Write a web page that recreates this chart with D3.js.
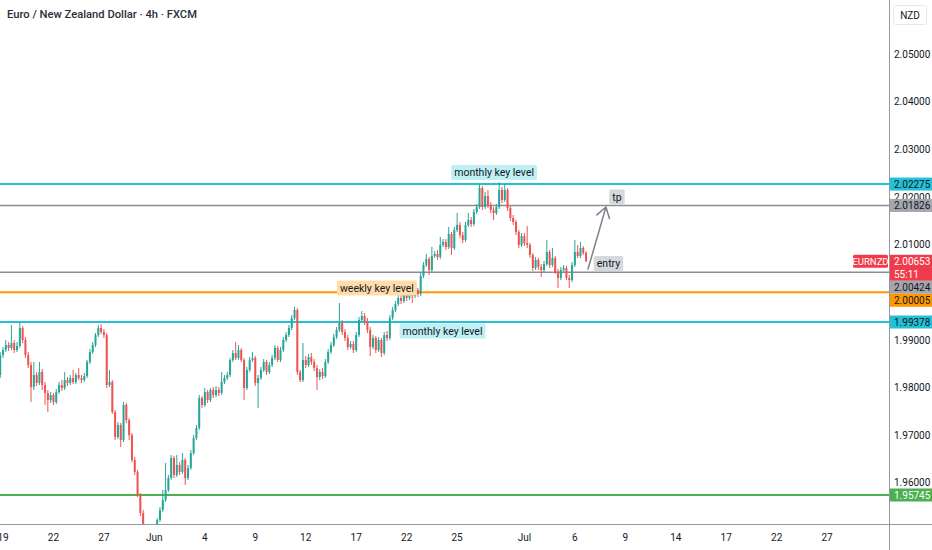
<!DOCTYPE html>
<html>
<head>
<meta charset="utf-8">
<script src="https://cdn.jsdelivr.net/npm/d3@7"></script>
<style>
  html, body { margin: 0; padding: 0; background: #fff; }
  svg { display: block; font-family: Roboto, "DejaVu Sans", sans-serif; }
</style>
</head>
<body>
<div id="chart"></div>
<script>
const width = 932, height = 550;
const plotW = 889, plotH = 524;

// 4h candles, EURNZD (open of each bar = previous close)
const firstOpen = 1.98265;
const closes = [
  1.98685,1.98790,1.98895,1.98832,1.98937,1.98790,1.98874,1.99252,1.99000,1.98685,
  1.98475,1.98013,1.98265,1.98097,1.98328,1.98055,1.97887,1.97740,1.97845,1.97698,
  1.97908,1.98055,1.97992,1.98160,1.98097,1.98202,1.98118,1.98265,1.98202,1.98160,
  1.98244,1.98538,1.98748,1.98895,1.99105,1.99252,1.99168,1.99105,1.98055,1.98118,
  1.97488,1.96963,1.97215,1.96900,1.97635,1.97320,1.97005,1.96480,1.96228,1.95745,
  1.95367,1.94905,1.94842,1.94968,1.94800,1.94905,1.95220,1.95430,1.95640,1.95850,
  1.96102,1.96522,1.96165,1.96375,1.96228,1.96480,1.96102,1.96312,1.96627,1.96942,
  1.97152,1.97782,1.97635,1.97908,1.97740,1.97950,1.97845,1.97950,1.97887,1.98118,
  1.98202,1.98265,1.98580,1.98727,1.98622,1.98790,1.98580,1.97992,1.98370,1.98580,
  1.98622,1.98097,1.98202,1.98370,1.98538,1.98328,1.98475,1.98622,1.98832,1.98580,
  1.98790,1.99000,1.99105,1.99252,1.99462,1.99630,1.98328,1.98160,1.98580,1.98475,
  1.98643,1.98538,1.98412,1.98223,1.98328,1.98244,1.98538,1.98748,1.98895,1.99063,
  1.99210,1.99357,1.99168,1.99042,1.98853,1.98916,1.98790,1.99105,1.99420,1.99504,
  1.99378,1.99210,1.98853,1.99042,1.98790,1.99000,1.98727,1.99105,1.99042,1.99462,
  1.99630,1.99756,1.99882,1.99819,1.99945,1.99882,2.00050,1.99924,2.00050,1.99966,
  2.00344,2.00575,2.00701,2.00470,2.00764,2.00806,2.00743,2.00995,2.01058,2.00953,
  2.01226,2.00932,2.01310,2.01415,2.01205,2.01100,2.01415,2.01520,2.01436,2.01688,
  2.01793,2.02192,2.01793,2.02024,2.01835,2.01730,2.01667,2.01793,2.02150,2.01940,
  2.02150,2.01772,2.01562,2.01478,2.01268,2.00995,2.01184,2.01037,2.00995,2.00785,
  2.00512,2.00680,2.00533,2.00470,2.00596,2.00848,2.00575,2.00722,2.00428,2.00302,
  2.00470,2.00512,2.00302,2.00260,2.00575,2.00848,2.00764,2.00932,2.00827,2.00653
];
const highs = [
  1.98748,1.98853,1.99000,1.98958,1.99315,1.99000,1.98958,1.99378,1.99294,1.99063,
  1.98748,1.98538,1.98538,1.98328,1.98538,1.98391,1.98118,1.97950,1.97908,1.97887,
  1.97971,1.98118,1.98160,1.98328,1.98223,1.98265,1.98370,1.98307,1.98412,1.98265,
  1.98307,1.98580,1.98811,1.98958,1.99147,1.99315,1.99336,1.99231,1.99147,1.98370,
  1.98160,1.97530,1.97278,1.97257,1.97698,1.97677,1.97362,1.97047,1.96543,1.96270,
  1.95787,1.95430,1.95115,1.95031,1.95010,1.95073,1.95262,1.95493,1.95850,1.96417,
  1.96165,1.96585,1.96564,1.96585,1.96438,1.96627,1.96522,1.96375,1.96690,1.97005,
  1.97215,1.97845,1.97824,1.97992,1.97950,1.97992,1.98013,1.98034,1.98013,1.98328,
  1.98265,1.98328,1.98622,1.98790,1.98958,1.98895,1.98832,1.98622,1.98433,1.98643,
  1.98748,1.98664,1.98265,1.98433,1.98601,1.98580,1.98538,1.98685,1.98895,1.98874,
  1.98853,1.99063,1.99168,1.99315,1.99525,1.99693,1.99672,1.98370,1.98937,1.98664,
  1.98706,1.98727,1.98601,1.98475,1.98391,1.98412,1.98601,1.98811,1.98958,1.99126,
  1.99273,1.99777,1.99420,1.99231,1.99105,1.98979,1.98979,1.99168,1.99483,1.99609,
  1.99567,1.99462,1.99273,1.99105,1.99084,1.99063,1.99042,1.99168,1.99189,1.99525,
  1.99693,1.99819,1.99945,1.99945,2.00008,2.00029,2.00113,2.00092,2.00113,2.00092,
  2.00407,2.00638,2.00806,2.00743,2.00953,2.00869,2.00890,2.01163,2.01121,2.01121,
  2.01373,2.01268,2.01373,2.01667,2.01478,2.01268,2.01478,2.01667,2.01583,2.01751,
  2.01856,2.02276,2.02234,2.02108,2.02150,2.01898,2.01793,2.01856,2.02318,2.02213,
  2.02276,2.02192,2.01814,2.01625,2.01520,2.01310,2.01247,2.01247,2.01394,2.01037,
  2.00827,2.00743,2.00722,2.00596,2.00659,2.01100,2.00890,2.00932,2.00764,2.00491,
  2.00533,2.00575,2.00554,2.00365,2.00638,2.01100,2.00995,2.01058,2.00974,2.00869
];
const lows = [
  1.98202,1.98622,1.98748,1.98769,1.98790,1.98727,1.98748,1.98832,1.98937,1.98622,
  1.98412,1.97698,1.97950,1.98034,1.98055,1.97950,1.97635,1.97488,1.97677,1.97635,
  1.97656,1.97866,1.97929,1.97950,1.98034,1.98055,1.98076,1.98076,1.98160,1.98097,
  1.98118,1.98202,1.98496,1.98706,1.98853,1.99063,1.99126,1.99042,1.97992,1.98013,
  1.97446,1.96900,1.96921,1.96753,1.96858,1.97257,1.96900,1.96438,1.96165,1.95703,
  1.95304,1.94695,1.94632,1.94779,1.94590,1.94737,1.94863,1.95178,1.95388,1.95598,
  1.95808,1.96060,1.96102,1.96123,1.96165,1.96186,1.95955,1.96060,1.96270,1.96585,
  1.96900,1.97110,1.97572,1.97593,1.97677,1.97698,1.97782,1.97803,1.97824,1.97845,
  1.98076,1.98160,1.98223,1.98538,1.98580,1.98580,1.98538,1.97740,1.97950,1.98328,
  1.98538,1.98034,1.97572,1.98160,1.98328,1.98265,1.98286,1.98433,1.98580,1.98538,
  1.98538,1.98748,1.98958,1.99063,1.99210,1.99420,1.98265,1.98118,1.98118,1.98412,
  1.98433,1.98475,1.98349,1.97950,1.98160,1.98181,1.98202,1.98496,1.98706,1.98853,
  1.99021,1.99168,1.99105,1.98979,1.98790,1.98811,1.98727,1.98748,1.99063,1.99378,
  1.99315,1.99147,1.98664,1.98811,1.98727,1.98748,1.98643,1.98685,1.98979,1.99000,
  1.99420,1.99588,1.99714,1.99756,1.99777,1.99819,1.99840,1.99777,1.99882,1.99903,
  1.99924,2.00302,2.00533,2.00365,2.00428,2.00722,2.00680,2.00701,2.00953,2.00890,
  2.00911,2.00785,2.00890,2.01268,2.01142,2.01037,2.01058,2.01373,2.01373,2.01394,
  2.01646,2.01751,2.01730,2.01751,2.01772,2.01667,2.01520,2.01625,2.01751,2.01877,
  2.01898,2.01709,2.01499,2.01415,2.01205,2.00932,2.00953,2.00974,2.00932,2.00722,
  2.00449,2.00470,2.00470,2.00323,2.00428,2.00554,2.00512,2.00533,2.00386,2.00092,
  2.00260,2.00428,2.00260,2.00092,2.00218,2.00533,2.00722,2.00722,2.00785,2.00638
];

// time axis: bar index of each label
const dateTickBars = [1, 19, 37, 55, 73, 91, 109, 127, 145, 163, 187, 205, 223, 241, 259, 277, 295];
const dateTickLabels = ["19", "22", "27", "Jun", "4", "9", "12", "17", "22", "25", "Jul", "6", "9", "14", "17", "22", "27"];

// price axis
const priceTicks = [2.05, 2.04, 2.03, 2.02, 2.01, 2.00, 1.99, 1.98, 1.97, 1.96];

// horizontal levels drawn on the chart
const levelPrices = [2.02275, 2.01826, 2.00424, 2.00005, 1.99378, 1.95745];

// text notes: [bar, price]
const noteTexts = ["monthly key level", "weekly key level", "monthly key level", "tp", "entry"];
const noteBars = [176.2, 134.4, 157.8, 220.0, 217.0];
const notePrices = [2.02518, 2.00092, 1.99189, 2.02003, 2.00607];

// arrow from entry to tp: [bar, price]
const arrowFrom = [209.7, 2.00491];
const arrowTo = [216.1, 2.01793];

const symbolName = "EURNZD";
const countdown = "55:11";

// styles
const upColor = "#26a69a", downColor = "#ef5350";
const levelStyle = [
  { stroke: "#22c1d6", w: 2, fill: "#22c1d6", txt: "#131722" },
  { stroke: "#8a8d96", w: 1.5, fill: "#a3a6ad", txt: "#131722" },
  { stroke: "#8a8d96", w: 1.5, fill: "#a3a6ad", txt: "#131722" },
  { stroke: "#ff9800", w: 2, fill: "#ff9800", txt: "#131722" },
  { stroke: "#22c1d6", w: 2, fill: "#22c1d6", txt: "#131722" },
  { stroke: "#4caf50", w: 2, fill: "#4caf50", txt: "#ffffff" }
];
const noteFill = ["#bff0f5", "#ffdcaa", "#bff0f5", "#d6d8dd", "#d6d8dd"];

const x = d3.scaleLinear().domain([0, 317]).range([0.2, 888.8]);
const y = d3.scaleLinear().domain([1.9459, 2.0614]).range([550, 0]);
const fmt = d3.format(".5f");

const svg = d3.select("#chart").append("svg")
    .attr("width", width)
    .attr("height", height);

svg.append("rect").attr("width", width).attr("height", height).attr("fill", "#fff");

svg.append("clipPath").attr("id", "plot")
  .append("rect").attr("x", 0).attr("y", 0).attr("width", plotW).attr("height", plotH);

const plot = svg.append("g").attr("clip-path", "url(#plot)");

// level lines
plot.selectAll(".level")
  .data(levelPrices)
  .enter().append("line")
  .attr("x1", 0).attr("x2", plotW)
  .attr("y1", d => y(d)).attr("y2", d => y(d))
  .attr("stroke", (d, i) => levelStyle[i].stroke)
  .attr("stroke-width", (d, i) => levelStyle[i].w);

// candles
const candles = closes.map((c, i) => {
  const o = i ? closes[i - 1] : firstOpen;
  return { i, o, c, h: Math.max(highs[i], o, c), l: Math.min(lows[i], o, c) };
});

const cg = plot.append("g");
cg.selectAll(".wick")
  .data(candles)
  .enter().append("line")
  .attr("x1", d => x(d.i)).attr("x2", d => x(d.i))
  .attr("y1", d => y(d.h)).attr("y2", d => y(d.l))
  .attr("stroke", d => d.c >= d.o ? upColor : downColor)
  .attr("stroke-width", 1);

cg.selectAll(".body")
  .data(candles)
  .enter().append("rect")
  .attr("x", d => x(d.i) - 1)
  .attr("width", 2)
  .attr("y", d => y(Math.max(d.o, d.c)))
  .attr("height", d => Math.max(1, Math.abs(y(d.o) - y(d.c))))
  .attr("fill", d => d.c >= d.o ? upColor : downColor);

// notes
noteTexts.forEach((t, i) => {
  const g = plot.append("g");
  const tx = g.append("text")
    .attr("x", x(noteBars[i]))
    .attr("y", y(notePrices[i]))
    .attr("text-anchor", "middle")
    .attr("dominant-baseline", "central")
    .style("font-size", "10.5px")
    .style("fill", "#131722")
    .text(t);
  const bb = tx.node().getBBox();
  g.insert("rect", "text")
    .attr("x", bb.x - 3).attr("y", y(notePrices[i]) - 7.5)
    .attr("width", bb.width + 6).attr("height", 15)
    .attr("rx", 1.5)
    .attr("fill", noteFill[i]);
});

// arrow
const ax0 = x(arrowFrom[0]), ay0 = y(arrowFrom[1]);
const ax1 = x(arrowTo[0]), ay1 = y(arrowTo[1]);
const ang = Math.atan2(ay0 - ay1, ax0 - ax1);
const headLen = 12, spread = Math.PI / 5.5;
const arrowPath = d3.path();
arrowPath.moveTo(ax0, ay0);
arrowPath.lineTo(ax1, ay1);
arrowPath.moveTo(ax1 + headLen * Math.cos(ang + spread), ay1 + headLen * Math.sin(ang + spread));
arrowPath.lineTo(ax1, ay1);
arrowPath.lineTo(ax1 + headLen * Math.cos(ang - spread), ay1 + headLen * Math.sin(ang - spread));
plot.append("path")
  .attr("d", arrowPath.toString())
  .attr("fill", "none")
  .attr("stroke", "#7d8089")
  .attr("stroke-width", 1.5)
  .attr("stroke-linecap", "round")
  .attr("stroke-linejoin", "round");

// axes frame
svg.append("line").attr("x1", 0).attr("x2", width).attr("y1", plotH + 0.5).attr("y2", plotH + 0.5)
  .attr("stroke", "#9598a1").attr("stroke-width", 1);
svg.append("line").attr("x1", plotW + 0.5).attr("x2", plotW + 0.5).attr("y1", 0).attr("y2", height)
  .attr("stroke", "#9598a1").attr("stroke-width", 1);

// time labels
svg.selectAll(".dlab")
  .data(dateTickBars)
  .enter().append("text")
  .attr("x", d => x(d))
  .attr("y", 537)
  .attr("text-anchor", "middle")
  .attr("dominant-baseline", "central")
  .style("font-size", "10px")
  .style("fill", "#131722")
  .text((d, i) => dateTickLabels[i]);

// price labels on the axis, pushed apart where they overlap
const lastPrice = closes[closes.length - 1];
const tags = levelPrices.map((p, i) => ({ p, h: 13, fill: levelStyle[i].fill, txt: levelStyle[i].txt, lines: [fmt(p)] }));
tags.push({ p: lastPrice, h: 26, fill: "#ef3b4c", txt: "#ffffff", lines: [fmt(lastPrice), countdown], last: true });
tags.sort((a, b) => b.p - a.p);
let prevBottom = -Infinity;
tags.forEach(t => {
  t.top = Math.max(y(t.p) - 6.5, prevBottom);
  prevBottom = t.top + t.h;
});

// price tick labels, skipping those hidden behind a tag
const hidden = d => tags.some(t => y(d) > t.top && y(d) < t.top + t.h);
svg.selectAll(".plab")
  .data(priceTicks.filter(d => !hidden(d)))
  .enter().append("text")
  .attr("x", 894)
  .attr("y", d => y(d))
  .attr("dominant-baseline", "central")
  .style("font-size", "10px")
  .style("fill", "#131722")
  .text(d => fmt(d));

// currency box
svg.append("rect").attr("x", 893.5).attr("y", 5.5).attr("width", 33).attr("height", 19).attr("rx", 2)
  .attr("fill", "#fff").attr("stroke", "#e6e8ed");
svg.append("text").attr("x", 910).attr("y", 15.5)
  .attr("text-anchor", "middle").attr("dominant-baseline", "central")
  .style("font-size", "10px").style("fill", "#131722").text("NZD");

tags.forEach(t => {
  svg.append("rect")
    .attr("x", plotW + 1).attr("y", t.top)
    .attr("width", width - plotW - 1).attr("height", t.h)
    .attr("fill", t.fill);
  t.lines.forEach((s, k) => {
    svg.append("text")
      .attr("x", 894).attr("y", t.top + 6.5 + k * 13)
      .attr("dominant-baseline", "central")
      .style("font-size", "10px")
      .style("fill", t.txt)
      .text(s);
  });
  if (t.last) {
    svg.append("rect")
      .attr("x", 853).attr("y", t.top)
      .attr("width", 35).attr("height", 13).attr("rx", 1.5)
      .attr("fill", t.fill);
    svg.append("text")
      .attr("x", 870.5).attr("y", t.top + 6.5)
      .attr("text-anchor", "middle").attr("dominant-baseline", "central")
      .style("font-size", "9.5px").style("fill", "#fff")
      .text(symbolName);
  }
});

// title
svg.append("text")
  .attr("x", 7).attr("y", 14)
  .attr("dominant-baseline", "central")
  .style("font-size", "11.2px")
  .style("font-weight", "500")
  .style("fill", "#2a2e39")
  .text("Euro / New Zealand Dollar · 4h · FXCM");
</script>
</body>
</html>
